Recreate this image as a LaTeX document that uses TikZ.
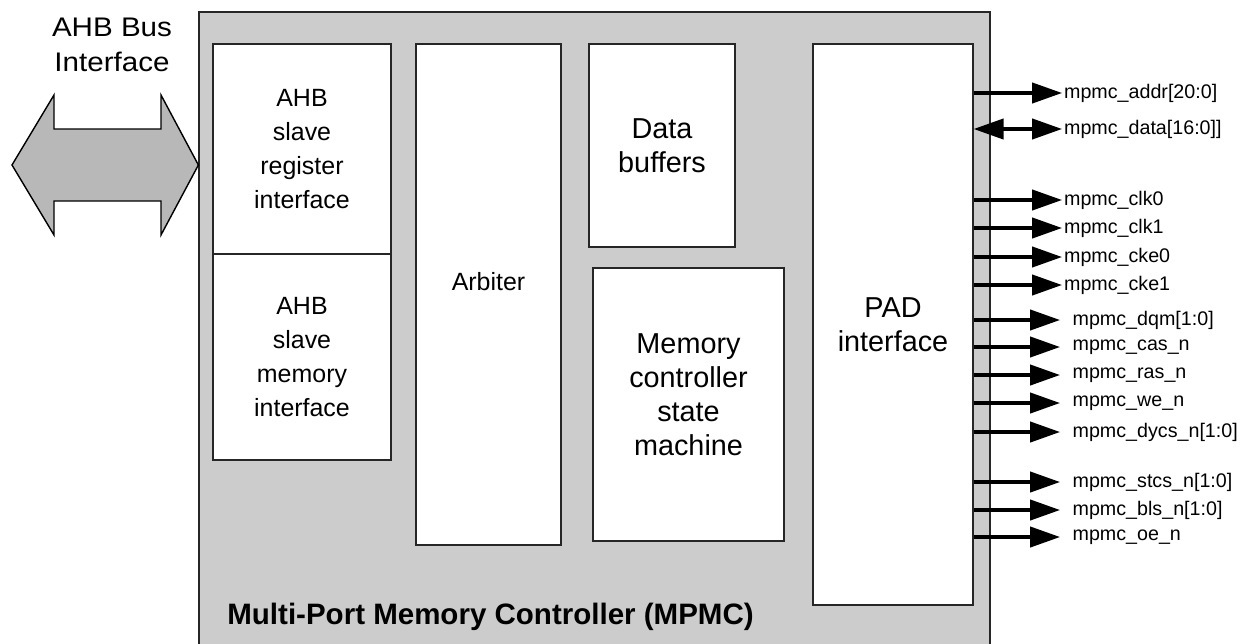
\documentclass[tikz,border=0pt]{standalone}
\usepackage{fontspec}
\setmainfont{Liberation Sans}
\newfontfamily\widesans[FakeStretch=1.1]{Liberation Sans}
\usetikzlibrary{arrows.meta}
\definecolor{mpmcgray}{HTML}{CCCCCC}
\definecolor{busgray}{HTML}{B8B8B8}
\tikzset{
  blk/.style={draw=black!85, line width=0.8pt, fill=white, align=center, inner sep=0pt},
  bigtxt/.style={font=\fontsize{16.4pt}{19.3pt}\selectfont},
  smalltxt/.style={font=\fontsize{14.2pt}{19.3pt}\selectfont},
  pintip/.tip={Triangle[length=17pt,width=11.5pt]},
  sig/.style={line width=1.9pt, -pintip},
  siglbl/.style={anchor=west, inner ysep=0pt, font=\fontsize{11.2pt}{13pt}\selectfont},
}
\begin{document}
\begin{tikzpicture}[x=0.02cm, y=-0.02cm]
  \useasboundingbox (0,0) rectangle (1250,643);
  \clip (0,0) rectangle (1250,643);
  % controller outline
  \node[draw=black!85, line width=0.8pt, fill=mpmcgray, inner sep=0pt,
        minimum width=15.82cm, minimum height=12.96cm] (mpmc) at (594.5,336) {};
  \node[anchor=base west, inner sep=0pt, font=\bfseries\fontsize{16.8pt}{20pt}\selectfont]
    (title) at (227,624) {Multi-Port Memory Controller (MPMC)};
  % AHB bus
  \draw[line width=0.8pt, fill=busgray] (12,165) -- (54,95) -- (54,129) -- (161,129)
    -- (161,95) -- (mpmc.west |- 0,165) -- (161,235) -- (161,201) -- (54,201)
    -- (54,235) -- cycle;
  \node[align=center, inner sep=0pt, font=\widesans\fontsize{15.3pt}{19.8pt}\selectfont]
    (bus) at (112,45) {AHB Bus\\Interface};
  % blocks
  \node[blk, smalltxt, minimum width=3.56cm, minimum height=4.2cm] (reg) at (302,149)
    {AHB\\slave\\register\\interface};
  \node[blk, smalltxt, minimum width=3.56cm, minimum height=4.12cm] (mem) at (302,357)
    {AHB\\slave\\memory\\interface};
  \node[blk, minimum width=2.9cm, minimum height=10.02cm,
        label={[smalltxt, yshift=0.25cm]center:Arbiter}] (arb) at (488.5,294.5) {};
  \node[blk, bigtxt, minimum width=2.92cm, minimum height=4.06cm] (buf) at (662,145.5)
    {Data\\buffers};
  \node[blk, minimum width=3.82cm, minimum height=5.46cm,
        label={[bigtxt, align=center, yshift=0.2cm]center:Memory\\controller\\state\\machine}]
    (fsm) at (688.5,404.5) {};
  \node[blk, bigtxt, minimum width=3.2cm, minimum height=11.22cm] (pad) at (893,324.5)
    {PAD\\interface};
  % pins
  \foreach \y/\nm/\txt in {93/addr/{mpmc\_addr[20:0]}, 200/clkz/{mpmc\_clk0},
      228/clko/{mpmc\_clk1}, 257/ckez/{mpmc\_cke0}, 285/ckeo/{mpmc\_cke1}} {
    \node[siglbl, inner xsep=1pt] (\nm) at (1062,\y) {\txt};
    \draw[sig] (pad.east |- \nm.west) -- (\nm.west);
  }
  \node[siglbl, inner xsep=1pt] (data) at (1062,129) {mpmc\_data[16:0]]};
  \draw[sig, pintip-pintip] (pad.east |- data.west) -- (data.west);
  \foreach \y/\nm/\txt in {320/dqm/{mpmc\_dqm[1:0]}, 347/cas/{mpmc\_cas\_n},
      375/ras/{mpmc\_ras\_n}, 403/we/{mpmc\_we\_n}, 432/dycs/{mpmc\_dycs\_n[1:0]},
      482/stcs/{mpmc\_stcs\_n[1:0]}, 510/bls/{mpmc\_bls\_n[1:0]}, 537/oe/{mpmc\_oe\_n}} {
    \node[siglbl, inner xsep=7pt] (\nm) at (1060,\y) {\txt};
    \draw[sig] (pad.east |- \nm.west) -- (\nm.west);
  }
\end{tikzpicture}
\end{document}
